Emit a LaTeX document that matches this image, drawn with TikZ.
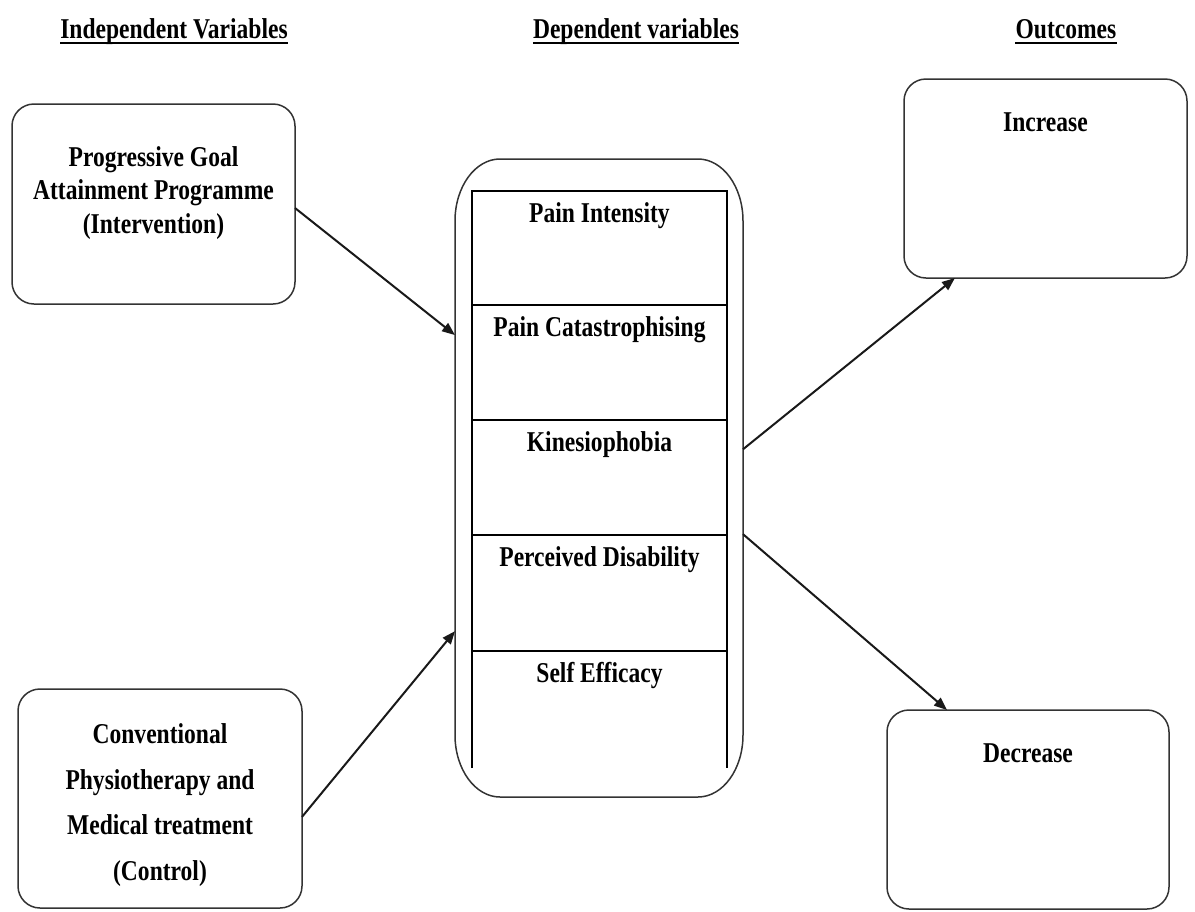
\documentclass[tikz,border=0pt]{standalone}
\usepackage{fontspec}
\setmainfont{Liberation Serif}[FakeStretch=0.82]
\usetikzlibrary{calc,arrows.meta}
\begin{document}
\begin{tikzpicture}[x=1pt,y=-1pt,
  box/.style={draw=black!80, line width=1.5pt, rounded corners=22pt, rectangle, inner sep=0pt, outer sep=0pt},
  cell/.style={rectangle, inner sep=0pt, outer sep=0pt, minimum width=255pt},
  lbl/.style={font=\fontsize{28.7}{33.5}\selectfont\bfseries, inner sep=0pt, align=center, anchor=base},
  hdr/.style={font=\fontsize{28.7}{33.5}\selectfont\bfseries, inner sep=0pt, anchor=base, text depth=5pt},
  uline/.style={line width=2pt, black},
  outline/.style={draw=black!80, line width=1.5pt},
  innerln/.style={draw=black, line width=1.5pt},
  arr/.style={draw=black!90, line width=2pt, -{Triangle[length=13pt,width=10pt]}}]
\useasboundingbox (0,0) rectangle (1195,911);

% headers
\node[hdr] (h1) at (174,38) {Independent Variables};
\node[hdr] (h2) at (636,38) {Dependent variables};
\node[hdr] (h3) at (1066,38) {Outcomes};
\draw[uline] (h1.south west) -- (h1.south east);
\draw[uline] (h2.south west) -- (h2.south east);
\draw[uline] (h3.south west) -- (h3.south east);

% boxes
\node[box, minimum width=283pt, minimum height=200pt] (iv) at (153.5,204) {};
\node[box, minimum width=284pt, minimum height=219pt] (cv) at (160,798.5) {};
\node[box, minimum width=283pt, minimum height=199pt] (inc) at (1045.5,178.5) {};
\node[box, minimum width=282pt, minimum height=199pt] (dec) at (1028,809.5) {};
\node[rectangle, inner sep=0pt, outer sep=0pt, minimum width=288pt, minimum height=638pt] (dv) at (599,478) {};

\draw[outline] ($(dv.north west)+(0,62)$) arc[start angle=180,end angle=90,x radius=45pt,y radius=62pt]
  -- ($(dv.north east)+(-45,0)$) arc[start angle=90,end angle=0,x radius=45pt,y radius=62pt]
  -- ($(dv.south east)+(0,-62)$) arc[start angle=0,end angle=-90,x radius=45pt,y radius=62pt]
  -- ($(dv.south west)+(45,0)$) arc[start angle=-90,end angle=-180,x radius=45pt,y radius=62pt]
  -- cycle;

% cells
\node[cell, minimum height=114pt] (c1) at (599.5,248) {};
\node[cell, minimum height=115pt] (c2) at (599.5,362.5) {};
\node[cell, minimum height=115pt] (c3) at (599.5,477.5) {};
\node[cell, minimum height=116pt] (c4) at (599.5,593) {};
\node[cell, minimum height=117pt] (c5) at (599.5,709.5) {};
\draw[innerln] (c5.south west) -- (c1.north west) -- (c1.north east) -- (c5.south east);
\draw[innerln] (c1.south west) -- (c1.south east);
\draw[innerln] (c2.south west) -- (c2.south east);
\draw[innerln] (c3.south west) -- (c3.south east);
\draw[innerln] (c4.south west) -- (c4.south east);

\node[lbl] (t1) at ($(c1.north)+(0,31)$) {Pain Intensity};
\node[lbl] (t2) at ($(c2.north)+(0,31)$) {Pain Catastrophising};
\node[lbl] (t3) at ($(c3.north)+(0,31)$) {Kinesiophobia};
\node[lbl] (t4) at ($(c4.north)+(0,31)$) {Perceived Disability};
\node[lbl] (t5) at ($(c5.north)+(0,31)$) {Self Efficacy};

% box texts (base anchor = last line's baseline)
\node[lbl] (tiv) at (153.5,233) {Progressive Goal\\Attainment Programme\\(Intervention)};
\node[lbl, font=\fontsize{28.7}{45.5}\selectfont\bfseries] (tcv) at (160,880) {Conventional\\Physiotherapy and\\Medical treatment\\(Control)};
\node[lbl] (tinc) at ($(inc.north)+(0,52)$) {Increase};
\node[lbl] (tdec) at ($(dec.north)+(0,52)$) {Decrease};

% arrows
\draw[arr] ($(iv.north east)!0.52!(iv.south east)$) -- ($(dv.north west)!0.276!(dv.south west)$);
\draw[arr] ($(cv.north east)!0.584!(cv.south east)$) -- ($(dv.north west)!0.74!(dv.south west)$);
\draw[arr] ($(dv.north east)!0.455!(dv.south east)$) -- ($(inc.south west)!0.18!(inc.south east)$);
\draw[arr] ($(dv.north east)!0.588!(dv.south east)$) -- ($(dec.north west)!0.213!(dec.north east)$);
\end{tikzpicture}
\end{document}
